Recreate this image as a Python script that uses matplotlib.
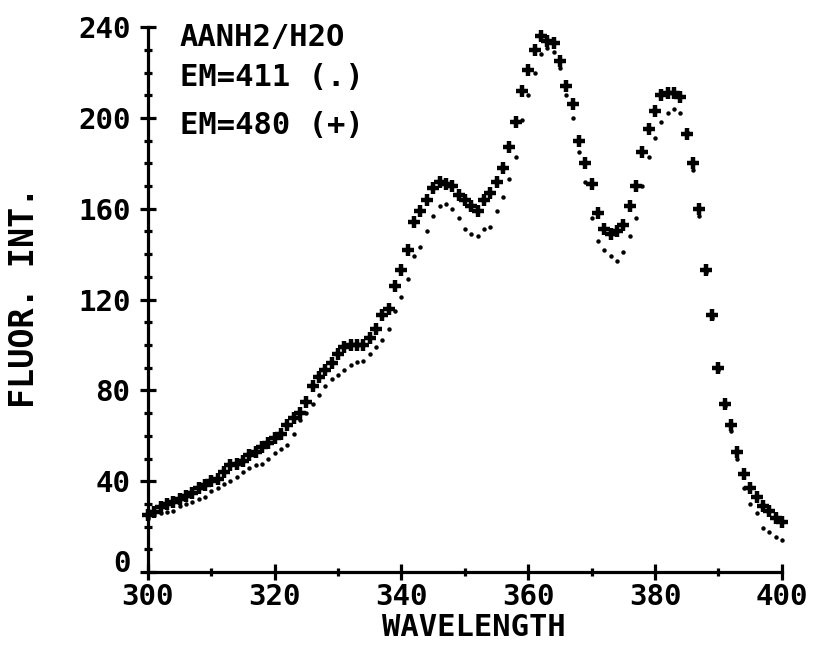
import numpy as np
import matplotlib
matplotlib.use("Agg")
import matplotlib.pyplot as plt
from matplotlib.ticker import MultipleLocator, FuncFormatter

# wavelength grid (nm)
wavelength = np.arange(300, 401, 1)

# EM=480, drawn with '+'
em480 = [25, 26.5, 28.5, 30, 31, 32, 33.5, 35, 37, 38.5,
         40, 41, 44, 47, 47.5, 49, 51.5, 53, 55, 57,
         59, 61, 65, 68, 70, 75, 82, 86, 89, 92,
         96, 99, 100, 100, 100, 103, 107, 113, 116, 126,
         133, 142, 154, 159, 164, 169, 172, 171, 170, 166,
         164, 161, 159, 164, 167, 172, 178, 187, 198, 212,
         221, 230, 236, 234, 233, 225, 214, 206, 190, 180,
         171, 158, 151, 149, 150, 153, 161, 170, 185, 195,
         203, 210, 211, 211, 209, 193, 180, 160, 133, 113,
         90, 74, 65, 53, 43, 37, 33, 29, 27, 24,
         22]

# EM=411, drawn with '.'
em411 = [24, 25, 26, 26.5, 27, 29, 30, 31, 32, 33,
         35.5, 37, 39, 40, 42, 44, 46, 47, 47.5, 50,
         52.5, 54, 56, 61, 67, 70, 74, 78, 82, 85,
         87, 89, 91, 92.5, 93, 96, 99, 102, 107, 115,
         121, 129, 139, 143, 150, 157, 161, 162, 160, 156,
         151, 149, 148, 151, 152, 159, 165, 173, 183, 199,
         210, 220, 228, 231, 229, 222, 210, 200, 185, 172,
         156, 146, 142, 139, 137, 141, 148, 156, 170, 183,
         191, 198, 202, 204, 202, 194, 177, 157, 132, 112,
         89, 73, 62, 50, 37, 30, 26, 19.5, 17.5, 15.5,
         14]

plt.rcParams['font.family'] = ['DejaVu Sans Mono']
plt.rcParams['font.weight'] = 'bold'
plt.rcParams['axes.labelweight'] = 'bold'

fig = plt.figure(figsize=(8.17, 6.45), dpi=100)
ax = fig.add_axes([0.181, 0.113, 0.776, 0.845])

ax.plot(wavelength, em411, linestyle='none', marker='o', markersize=3.2,
        color='black', markeredgewidth=0, clip_on=False)
ax.plot(wavelength, em480, linestyle='none', marker='+', markersize=8,
        markeredgewidth=3.2, color='black', clip_on=False)

ax.set_xlim(300, 400)
ax.set_ylim(0, 240)
ax.xaxis.set_major_locator(MultipleLocator(20))
ax.xaxis.set_minor_locator(MultipleLocator(10))
ax.yaxis.set_major_locator(MultipleLocator(40))
ax.yaxis.set_minor_locator(MultipleLocator(10))
# the y "0" is drawn separately, a little higher, clear of the "300"
ax.yaxis.set_major_formatter(FuncFormatter(lambda v, p: '' if v == 0 else '%d' % v))

for side in ['top', 'right']:
    ax.spines[side].set_visible(False)
for side in ['left', 'bottom']:
    ax.spines[side].set_linewidth(2.3)

ax.tick_params(which='major', direction='inout', length=11, width=2.3,
               labelsize=21)
ax.tick_params(which='minor', direction='inout', length=6, width=2.3)
ax.tick_params(axis='x', which='major', pad=2)
ax.tick_params(axis='y', which='major', pad=7)

ax.annotate('0', xy=(0, 0), xycoords='axes fraction', xytext=(-12.5, 6),
            textcoords='offset points', ha='right', va='center', fontsize=21)

ax.set_xlabel('WAVELENGTH', fontsize=22)
ax.xaxis.set_label_coords(0.514, -0.101)
ax.xaxis.label.set_va('center')
ax.set_ylabel('FLUOR. INT.', fontsize=24)
ax.yaxis.set_label_coords(-0.194, 0.505)
ax.yaxis.label.set_va('center')

ax.text(0.05, 0.98, 'AANH2/H2O', transform=ax.transAxes, fontsize=22,
        va='center', ha='left')
ax.text(0.05, 0.908, 'EM=411 (.)', transform=ax.transAxes, fontsize=22,
        va='center', ha='left')
ax.text(0.05, 0.82, 'EM=480 (+)', transform=ax.transAxes, fontsize=22,
        va='center', ha='left')

fig.savefig('out.png', dpi=100)
